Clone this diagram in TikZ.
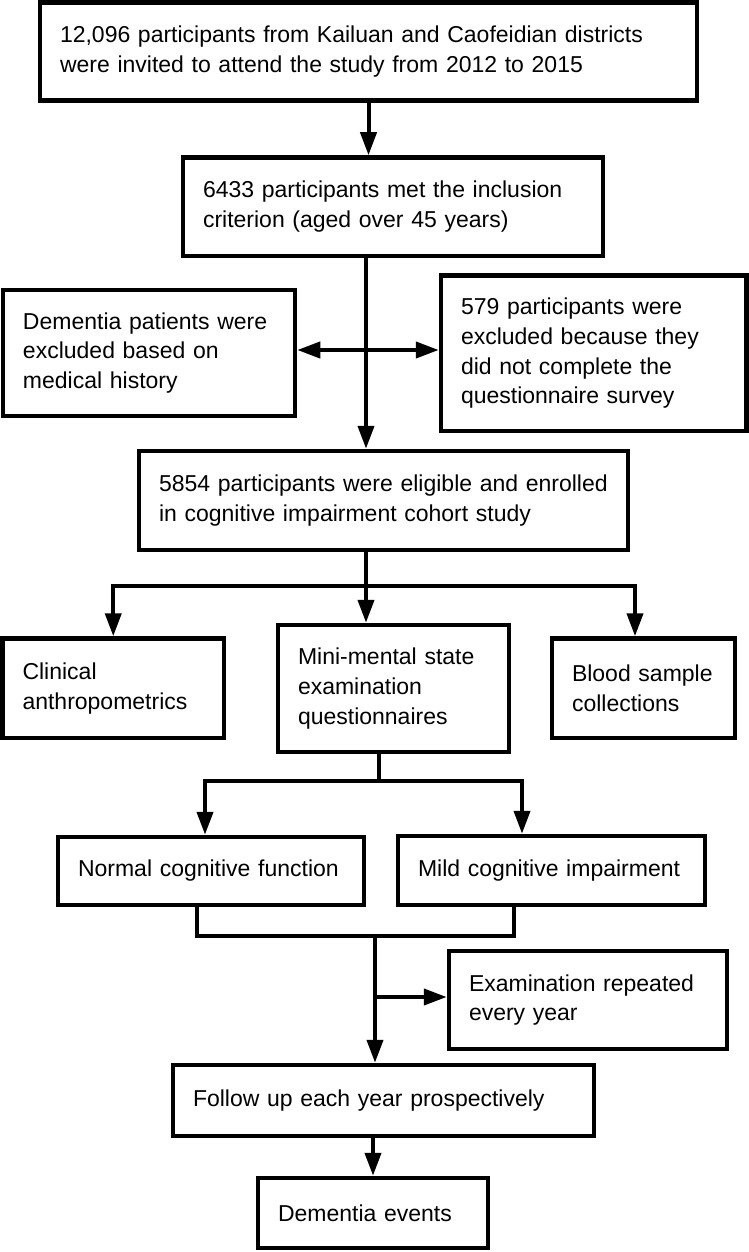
\documentclass[tikz,border=0pt]{standalone}
\usepackage{fontspec}
\setmainfont{Liberation Sans}
\usetikzlibrary{arrows.meta}

\begin{document}
\begin{tikzpicture}[x=1pt,y=-1pt,
  box/.style={draw, line width=4.5pt, inner xsep=20pt, inner ysep=0pt, align=left,
    font=\fontsize{23}{29.7}\selectfont},
  ln/.style={line width=4pt},
  arr/.style={ln, -{Triangle[length=23pt,width=16pt]}},
  arrs/.style={ln, {Triangle[length=23pt,width=16pt]}-{Triangle[length=23pt,width=16pt]}}]
\useasboundingbox (0,0) rectangle (749,1252);

\path (368.5,51.5) node (inv) [box, minimum width=657pt, minimum height=98pt, text width=617pt] {12,096 participants from Kailuan and Caofeidian districts\\were invited to attend the study from 2012 to 2015};
\path (393,206.75) node (incl) [box, minimum width=420pt, minimum height=98.5pt, text width=380pt] {6433 participants met the inclusion\\criterion (aged over 45 years)};
\path (149,353) node (exclA) [box, minimum width=292pt, minimum height=126pt, text width=252pt] {Dementia patients were\\excluded based on\\medical history};
\path (593.75,353.25) node (exclB) [box, minimum width=305.5pt, minimum height=155.5pt, text width=265.5pt] {579 participants were\\excluded because they\\did not complete the\\questionnaire survey};
\path (383.5,500.5) node (enr) [box, minimum width=489pt, minimum height=99pt, text width=449pt] {5854 participants were eligible and enrolled\\in cognitive impairment cohort study};

\path (113.25,688.25) node (clin) [box, minimum width=221.5pt, minimum height=99.5pt, text width=181.5pt] {Clinical\\anthropometrics};
\path (393.5,688.5) node (mmse) [box, minimum width=231pt, minimum height=127pt, text width=191pt] {Mini-mental state\\examination\\questionnaires};
\path (643.5,688.25) node (blood) [box, minimum width=183pt, minimum height=99.5pt, text width=143pt] {Blood sample\\collections};

\path (211,871) node (norm) [box, minimum width=306pt, minimum height=68pt, text width=266pt] {Normal cognitive function};
\path (551.5,870.5) node (mild) [box, minimum width=307pt, minimum height=69pt, text width=267pt] {Mild cognitive impairment};

\path (588,1000) node (exam) [box, minimum width=278pt, minimum height=98pt, text width=238pt] {Examination repeated\\every year};
\path (383.5,1100.5) node (foll) [box, minimum width=421pt, minimum height=71pt, text width=381pt] {Follow up each year prospectively};
\path (373,1213) node (dem) [box, minimum width=230pt, minimum height=70pt, text width=190pt] {Dementia events};

% junction points
\coordinate (j1) at (366,350);
\coordinate (j2) at (366,586);
\coordinate (j3) at (635,586);
\coordinate (k1) at (379,781);
\coordinate (k2) at (205,781);
\coordinate (k3) at (522,781);
\coordinate (m1) at (197,936);
\coordinate (m2) at (514,936);
\coordinate (m3) at (375,936);
\coordinate (m4) at (375,997);

\draw [arr] (inv.south) -- (inv.south |- incl.north);
\draw [arr] (j1 |- incl.south) -- (j1 |- enr.north);
\draw [arrs] (j1 -| exclA.east) -- (j1 -| exclB.west);

\draw [ln] (j1 |- enr.south) -- (j2);
\draw [arr] (j2) -- (j2 |- mmse.north);
\draw [arrs] (clin.north) -- (clin.north |- j2) -- (j3) -- (j3 |- blood.north);

\draw [ln] (k1 |- mmse.south) -- (k1);
\draw [arrs] (k2 |- norm.north) -- (k2) -- (k3) -- (k3 |- mild.north);

\draw [ln] (m1 |- norm.south) -- (m1) -- (m2) -- (m2 |- mild.south);
\draw [arr] (m3) -- (m3 |- foll.north);
\draw [arr] (m4) -- (m4 -| exam.west);
\draw [arr] (dem.north |- foll.south) -- (dem.north);

\end{tikzpicture}
\end{document}
